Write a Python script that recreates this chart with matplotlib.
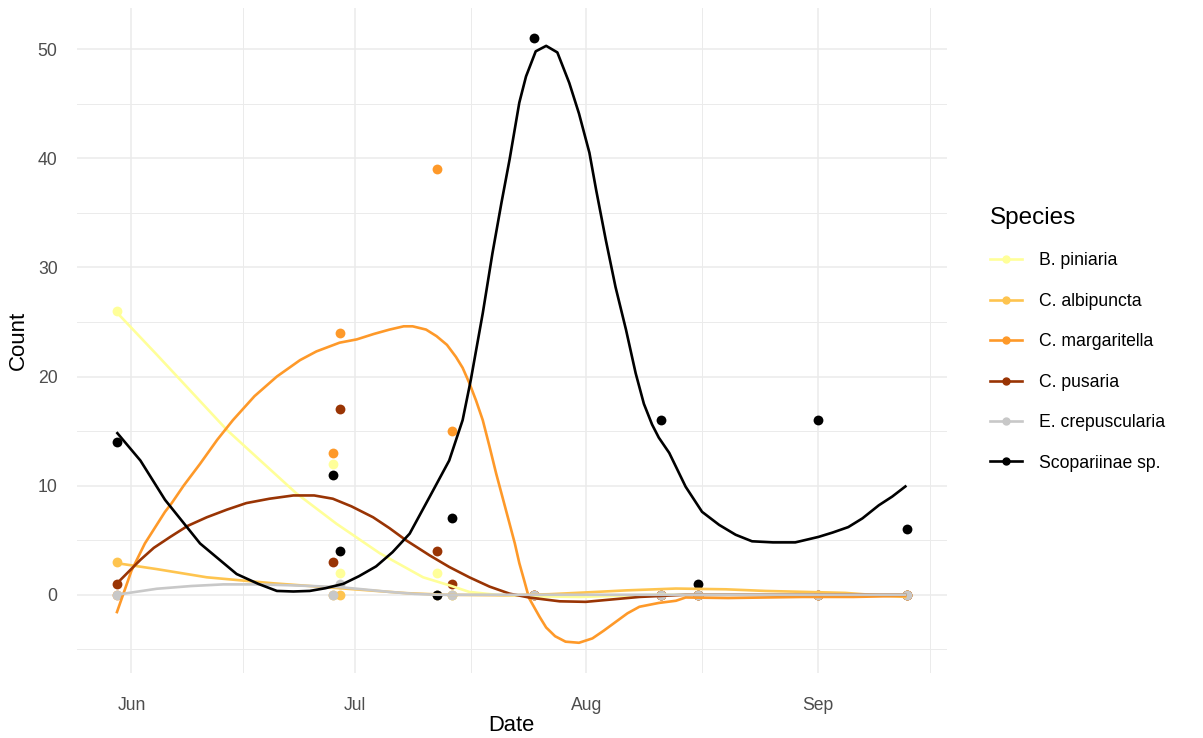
import numpy as np
import pandas as pd
import matplotlib
matplotlib.use("Agg")
import matplotlib.pyplot as plt
import matplotlib.dates as mdates
from matplotlib.ticker import MultipleLocator, FixedLocator
from matplotlib.lines import Line2D

plt.rcParams['font.family'] = ['Liberation Sans', 'DejaVu Sans']

species = ['B. piniaria', 'C. albipuncta', 'C. margaritella', 'C. pusaria',
           'E. crepuscularia', 'Scopariinae sp.']
colours = ['#FFFF99', '#FEC44F', '#FE9929', '#993404', '#C8C8C8', '#000000']

survey_dates = pd.to_datetime(['2023-05-30', '2023-06-28', '2023-06-29', '2023-07-12',
                               '2023-07-14', '2023-07-25', '2023-08-11', '2023-08-16',
                               '2023-09-01', '2023-09-13'])

pin_count = [26, 12, 2, 2, 0, 0, 0, 0, 0, 0]
alb_count = [3, 0, 0, 0, 0, 0, 0, 0, 0, 0]
marg_count = [0, 13, 24, 39, 15, 0, 0, 0, 0, 0]
pus_count = [1, 3, 17, 4, 1, 0, 0, 0, 0, 0]
crep_count = [0, 0, 1, 0, 0, 0, 0, 0, 0, 0]
scop_count = [14, 11, 4, 0, 7, 51, 16, 1, 16, 6]

# loess curves, x in days after 1 June
fit_start = pd.Timestamp('2023-06-01')

pin_fit_days = [-2, 3.4, 7.9, 12.8, 16.8, 22.1, 27.5, 33.3, 39.1, 42.6, 45.3, 48.9,
                55, 60, 65, 70, 80, 90, 103.9]
pin_fit = [25.9, 22.0, 18.7, 15.1, 12.6, 9.3, 6.5, 3.8, 1.6, 0.87, 0.26, 0.0,
           -0.15, -0.2, -0.1, 0.0, 0.0, 0.0, 0.0]

alb_fit_days = [-2, 3.4, 10.1, 19.0, 27.9, 36.8, 42, 50, 56, 62.3, 66.3, 73.0,
                79.7, 85, 90.4, 95.7, 101.1, 103.9]
alb_fit = [2.9, 2.35, 1.6, 1.05, 0.6, 0.15, 0.0, -0.05, 0.05, 0.26, 0.4, 0.57,
           0.5, 0.35, 0.26, 0.17, -0.1, -0.2]

marg_fit_days = [-2, 0, 1.8, 4.5, 5.4, 7, 9.2, 11.5, 13.6, 16.5, 19.5, 22.6, 24.8,
                 27.9, 30.2, 32.5, 34.6, 36.5, 37.7, 39.5, 40.9, 42.3, 43.5, 44.4,
                 45.3, 46.2, 47.1, 48.0, 48.9, 49.8, 50.7, 51.4, 52.0, 52.7, 53.3,
                 54.7, 55.6, 56.8, 58.2, 60.0, 61.8, 63.3, 64.9, 66.5, 68.1, 70.7,
                 73.0, 74.3, 80, 90, 96.8, 103.9]
marg_fit = [-1.7, 2.2, 4.7, 7.6, 8.4, 10.0, 12.0, 14.2, 16.0, 18.2, 20.0, 21.5, 22.3,
            23.1, 23.4, 23.9, 24.3, 24.6, 24.6, 24.3, 23.7, 22.9, 21.8, 20.8,
            19.4, 17.8, 16.0, 13.6, 11.1, 8.8, 6.5, 4.7, 2.9, 1.2, -0.3,
            -2.0, -3.0, -3.8, -4.3, -4.4, -4.0, -3.3, -2.5, -1.7, -1.1, -0.75,
            -0.55, -0.25, -0.3, -0.2, -0.2, -0.1]

pus_fit_days = [-2, 1.2, 3, 5.2, 7.5, 10.1, 12.8, 15.4, 18.5, 21.7, 24.5, 27.0, 29.5,
                32.4, 34.6, 36.8, 40.0, 42.6, 45.3, 48.0, 50.7, 53.3, 57.4, 60.9,
                64.9, 68.1, 74.3, 80, 90, 103.9]
pus_fit = [1.0, 3.2, 4.3, 5.3, 6.3, 7.1, 7.8, 8.4, 8.8, 9.1, 9.1, 8.8, 8.1,
           7.1, 6.1, 5.0, 3.6, 2.55, 1.6, 0.75, 0.1, -0.25, -0.6, -0.65,
           -0.4, -0.2, 0.0, 0.0, 0.0, 0.0]

crep_fit_days = [-2, 3.4, 8, 12.3, 17, 21.2, 25, 27.9, 31, 34.6, 38, 41, 50, 70, 90, 103.9]
crep_fit = [0.0, 0.55, 0.8, 0.95, 0.95, 0.87, 0.78, 0.7, 0.5, 0.26, 0.08, 0.0,
            0.0, 0.0, 0.0, 0.0]

scop_fit_days = [-2, 1.2, 4.5, 9.2, 14.1, 17, 19.5, 21.7, 23.9, 26, 28.4, 30.5, 32.8,
                 35, 37.3, 40.0, 42.6, 44.4, 45.5, 47.1, 48.4, 49.6, 50.7, 52.0,
                 52.9, 54.2, 55.6, 57.1, 58.7, 60.0, 61.4, 62.3, 63.6, 64.9, 66.3,
                 67.6, 68.7, 69.8, 70.7, 72.1, 74.3, 76.5, 78.8, 81, 83.2, 86, 89.0,
                 92.1, 94, 96.1, 98, 100.2, 102, 103.9]
scop_fit = [14.9, 12.3, 8.7, 4.7, 1.9, 1.0, 0.35, 0.3, 0.35, 0.6, 1.0, 1.7, 2.6,
            3.9, 5.6, 9.0, 12.3, 16.0, 19.7, 25.8, 31.3, 35.9, 39.9, 45.1,
            47.5, 49.8, 50.3, 49.7, 46.9, 44.1, 40.5, 37.1, 32.5, 28.2, 24.3,
            20.3, 17.5, 15.6, 14.4, 13.0, 9.9, 7.6, 6.4, 5.5, 4.9, 4.8, 4.8,
            5.3, 5.7, 6.2, 7.0, 8.2, 9.0, 10.0]

counts = [pin_count, alb_count, marg_count, pus_count, crep_count, scop_count]
fits = [(pin_fit_days, pin_fit), (alb_fit_days, alb_fit), (marg_fit_days, marg_fit),
        (pus_fit_days, pus_fit), (crep_fit_days, crep_fit), (scop_fit_days, scop_fit)]

fig = plt.figure(figsize=(12.03, 7.38), dpi=100)
ax = fig.add_axes([77 / 1203, 1 - 673 / 738, (946.7 - 77) / 1203, (673 - 8) / 738])

for cnt, col in zip(counts, colours):
    ax.scatter(survey_dates, cnt, s=50, color=col, linewidths=0, zorder=3)

for (d, v), col in zip(fits, colours):
    x = (fit_start + pd.to_timedelta(d, unit='D')).to_numpy()
    ax.plot(x, v, color=col, lw=1.9, zorder=4, solid_capstyle='butt',
            solid_joinstyle='round')

# ggplot-like 5% expansion
x0 = mdates.date2num(survey_dates.min())
x1 = mdates.date2num(survey_dates.max())
ax.set_xlim(x0 - 0.05 * (x1 - x0), x1 + 0.05 * (x1 - x0))
ymin = min(min(v) for _, v in fits)
ymax = max(max(c) for c in counts)
ax.set_ylim(ymin - 0.05 * (ymax - ymin), ymax + 0.05 * (ymax - ymin))

months = pd.date_range('2023-05-01', '2023-10-01', freq='MS')
mnum = mdates.date2num(months)
ax.xaxis.set_major_locator(mdates.MonthLocator())
ax.xaxis.set_major_formatter(mdates.DateFormatter('%b'))
ax.xaxis.set_minor_locator(FixedLocator((mnum[:-1] + mnum[1:]) / 2))
ax.yaxis.set_major_locator(MultipleLocator(10))
ax.yaxis.set_minor_locator(MultipleLocator(5))

ax.grid(which='major', color='#EBEBEB', lw=1.1)
ax.grid(which='minor', color='#EBEBEB', lw=0.7)
ax.set_axisbelow(True)
for s in ax.spines.values():
    s.set_visible(False)
ax.tick_params(which='both', length=0, colors='#4D4D4D', labelsize=12.7)
ax.tick_params(axis='y', pad=14)
ax.tick_params(axis='x', pad=17)

ax.set_xlabel('Date', fontsize=15.8, labelpad=1)
ax.set_ylabel('Count', fontsize=16, labelpad=6)

handles = [Line2D([], [], color=c, lw=1.9, marker='o', ms=5) for c in colours]
fig.legend(handles, species, title='Species', loc='upper left',
           bbox_to_anchor=(974 / 1203, 1 - 191 / 738), frameon=False,
           fontsize=12.7, title_fontsize=17.5, labelspacing=1.33,
           handlelength=1.8, handletextpad=1.0, alignment='left')

fig.savefig('out.png', dpi=100)
